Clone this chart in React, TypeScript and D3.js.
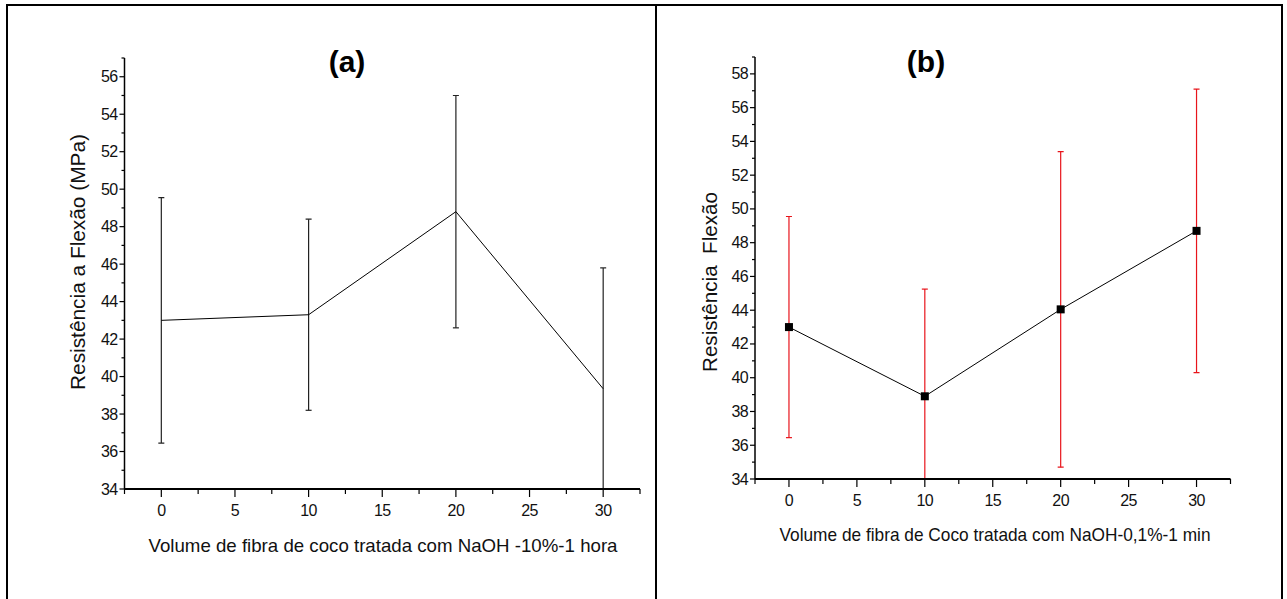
import React, { useEffect, useRef } from 'react';
import * as d3 from 'd3';

// volume fractions (x) shared by both panels
const fiberVolume = [0, 10, 20, 30];

// panel (a): NaOH 10% - 1 hora
const meanA = [43.0, 43.3, 48.8, 39.35];
const errA = [6.55, 5.1, 6.2, 6.45];

// panel (b): NaOH 0,1% - 1 min
const meanB = [43.0, 38.9, 44.05, 48.7];
const errB = [6.55, 6.35, 9.35, 8.4];

const xTickValues = [0, 5, 10, 15, 20, 25, 30];
const yTicksA = [34, 36, 38, 40, 42, 44, 46, 48, 50, 52, 54, 56];
const yTicksB = [34, 36, 38, 40, 42, 44, 46, 48, 50, 52, 54, 56, 58];

const SANS = "'Liberation Sans', Arial, sans-serif";

interface PanelOpts {
    id: string;
    title: string;
    titleX: number;
    yLabel: string;
    yLabelX: number;
    yLabelY: number;
    yLabelLen: number;
    xLabel: string;
    xLabelX: number;
    xLabelY: number;
    xLabelLen: number;
    xRange: [number, number];
    yRange: [number, number];
    yDomain: [number, number];
    yTicks: number[];
    means: number[];
    errs: number[];
    errColor: string;
    markers: boolean;
    tickLabelY: number;
}

const drawPanel = (svg: d3.Selection<SVGSVGElement, unknown, null, undefined>, o: PanelOpts) => {
    const x = d3.scaleLinear().domain([-2.5, 32.5]).range(o.xRange);
    const y = d3.scaleLinear().domain(o.yDomain).range(o.yRange);
    const g = svg.append('g');

    // clip for error bars that run below the axis
    svg.append('defs').append('clipPath')
        .attr('id', `clip-${o.id}`)
        .append('rect')
        .attr('x', o.xRange[0])
        .attr('y', o.yRange[1])
        .attr('width', o.xRange[1] - o.xRange[0])
        .attr('height', o.yRange[0] - o.yRange[1]);

    const plot = g.append('g').attr('clip-path', `url(#clip-${o.id})`);

    // error bars
    fiberVolume.forEach((v, i) => {
        const cx = x(v);
        const hi = y(o.means[i] + o.errs[i]);
        const lo = y(o.means[i] - o.errs[i]);
        plot.append('line')
            .attr('x1', cx).attr('x2', cx)
            .attr('y1', hi).attr('y2', lo)
            .attr('stroke', o.errColor)
            .attr('stroke-width', 1.2);
        [hi, lo].forEach(yy => {
            plot.append('line')
                .attr('x1', cx - 3).attr('x2', cx + 3)
                .attr('y1', yy).attr('y2', yy)
                .attr('stroke', o.errColor)
                .attr('stroke-width', 1.2);
        });
    });

    // mean line
    const line = d3.line<number>()
        .x((_, i) => x(fiberVolume[i]))
        .y(d => y(d));
    plot.append('path')
        .attr('d', line(o.means))
        .attr('fill', 'none')
        .attr('stroke', '#000')
        .attr('stroke-width', 1);

    if (o.markers) {
        plot.selectAll('rect.pt')
            .data(o.means)
            .enter()
            .append('rect')
            .attr('x', (_, i) => x(fiberVolume[i]) - 4)
            .attr('y', d => y(d) - 4)
            .attr('width', 8)
            .attr('height', 8)
            .attr('fill', '#000');
    }

    // y axis
    const y0 = o.yRange[0];
    const xLeft = o.xRange[0];
    g.append('line')
        .attr('x1', xLeft).attr('x2', xLeft)
        .attr('y1', o.yRange[1]).attr('y2', y0)
        .attr('stroke', '#000').attr('stroke-width', 1.5);
    const yMinor = d3.range(o.yDomain[0] + 1, o.yDomain[1] + 0.5, 2);
    yMinor.forEach(t => {
        g.append('line')
            .attr('x1', xLeft - 3).attr('x2', xLeft)
            .attr('y1', y(t)).attr('y2', y(t))
            .attr('stroke', '#000').attr('stroke-width', 1.2);
    });
    o.yTicks.forEach(t => {
        g.append('line')
            .attr('x1', xLeft - 5).attr('x2', xLeft)
            .attr('y1', y(t)).attr('y2', y(t))
            .attr('stroke', '#000').attr('stroke-width', 1.2);
        g.append('text')
            .attr('x', xLeft - 7)
            .attr('y', y(t) + 5.5)
            .attr('text-anchor', 'end')
            .attr('font-family', SANS)
            .attr('font-size', '16px')
            .attr('letter-spacing', '-0.6px')
            .attr('fill', '#111')
            .text(t);
    });

    // x axis
    g.append('line')
        .attr('x1', xLeft).attr('x2', o.xRange[1])
        .attr('y1', y0).attr('y2', y0)
        .attr('stroke', '#000').attr('stroke-width', 2);
    d3.range(-2.5, 33, 5).forEach(t => {
        g.append('line')
            .attr('x1', x(t)).attr('x2', x(t))
            .attr('y1', y0).attr('y2', y0 + 5)
            .attr('stroke', '#000').attr('stroke-width', 1.2);
    });
    xTickValues.forEach(t => {
        g.append('line')
            .attr('x1', x(t)).attr('x2', x(t))
            .attr('y1', y0).attr('y2', y0 + 8)
            .attr('stroke', '#000').attr('stroke-width', 1.2);
        g.append('text')
            .attr('x', x(t))
            .attr('y', o.tickLabelY)
            .attr('text-anchor', 'middle')
            .attr('font-family', SANS)
            .attr('font-size', '16px')
            .attr('letter-spacing', '-0.6px')
            .attr('fill', '#111')
            .text(t);
    });

    // labels
    g.append('text')
        .attr('x', o.titleX)
        .attr('y', 72)
        .attr('text-anchor', 'middle')
        .attr('font-family', SANS)
        .attr('font-weight', 'bold')
        .attr('font-size', '30px')
        .text(o.title);

    g.append('text')
        .attr('transform', `translate(${o.yLabelX},${o.yLabelY}) rotate(-90)`)
        .attr('text-anchor', 'middle')
        .attr('font-family', SANS)
        .attr('font-size', '20px')
        .attr('fill', '#111')
        .attr('textLength', o.yLabelLen)
        .attr('lengthAdjust', 'spacingAndGlyphs')
        .style('white-space', 'pre')
        .text(o.yLabel);

    g.append('text')
        .attr('x', o.xLabelX)
        .attr('y', o.xLabelY)
        .attr('text-anchor', 'middle')
        .attr('font-family', SANS)
        .attr('font-size', '19px')
        .attr('fill', '#111')
        .attr('textLength', o.xLabelLen)
        .attr('lengthAdjust', 'spacingAndGlyphs')
        .text(o.xLabel);
};

const App: React.FC = () => {
    const svgRef = useRef<SVGSVGElement>(null);

    useEffect(() => {
        if (!svgRef.current) return;
        const svg = d3.select(svgRef.current);
        svg.selectAll('*').remove();

        // outer frame (open at the bottom)
        const frame = svg.append('g')
            .attr('fill', 'none')
            .attr('stroke', '#000')
            .attr('stroke-width', 2);
        frame.append('path').attr('d', 'M7,599 V5 H1282 V599');
        frame.append('line').attr('x1', 656).attr('x2', 656).attr('y1', 5).attr('y2', 599);

        drawPanel(svg, {
            id: 'a',
            title: '(a)',
            titleX: 347,
            yLabel: 'Resistência a Flexão (MPa)',
            yLabelX: 85,
            yLabelY: 262,
            yLabelLen: 256,
            xLabel: 'Volume de fibra de coco tratada com NaOH -10%-1 hora',
            xLabelX: 383,
            xLabelY: 552,
            xLabelLen: 469,
            xRange: [124.5, 640],
            yRange: [489, 58],
            yDomain: [34, 57],
            yTicks: yTicksA,
            means: meanA,
            errs: errA,
            errColor: '#222',
            markers: false,
            tickLabelY: 516,
        });

        drawPanel(svg, {
            id: 'b',
            title: '(b)',
            titleX: 926,
            yLabel: 'Resistência  Flexão',
            yLabelX: 717,
            yLabelY: 282,
            yLabelLen: 180,
            xLabel: 'Volume de fibra de Coco tratada com NaOH-0,1%-1 min',
            xLabelX: 995,
            xLabelY: 541,
            xLabelLen: 431,
            xRange: [755, 1230.5],
            yRange: [479, 57],
            yDomain: [34, 59],
            yTicks: yTicksB,
            means: meanB,
            errs: errB,
            errColor: '#e8141b',
            markers: true,
            tickLabelY: 506,
        });
    }, []);

    return (
        <svg
            ref={svgRef}
            width={1287}
            height={599}
            style={{ position: 'absolute', left: 0, top: 0, background: '#fff' }}
        />
    );
};

export default App;
